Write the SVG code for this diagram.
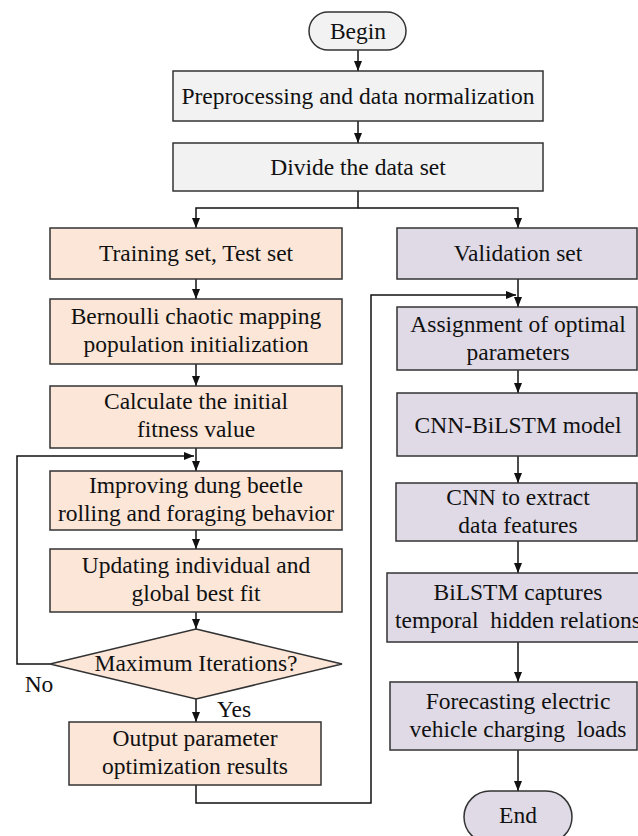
<svg xmlns="http://www.w3.org/2000/svg" width="638" height="836" viewBox="0 0 638 836">
<style>
.box{stroke:#333;stroke-width:1.5}
.g{fill:#f2f2f2}
.p{fill:#fbe6d8}
.v{fill:#dfdae6}
.t{font-family:"Liberation Serif","Times New Roman",serif;font-size:23.5px;fill:#111;text-anchor:middle}
.c{fill:none;stroke:#111;stroke-width:1.5}
</style>
<defs>
<marker id="ah" markerUnits="userSpaceOnUse" markerWidth="10" markerHeight="10" refX="10" refY="4" orient="auto">
<path d="M0,0 L10,4 L0,8 z" fill="#111"/>
</marker>
</defs>
<rect width="638" height="836" fill="#fff"/>
<g id="connectors">
<line class="c" x1="358" y1="50" x2="358" y2="71" marker-end="url(#ah)"/>
<line class="c" x1="358" y1="121" x2="358" y2="143" marker-end="url(#ah)"/>
<polyline class="c" points="358,191 358,208 196,208 196,228" marker-end="url(#ah)"/>
<polyline class="c" points="358,208 518,208 518,228" marker-end="url(#ah)"/>
<line class="c" x1="196" y1="279" x2="196" y2="299" marker-end="url(#ah)"/>
<line class="c" x1="196" y1="364" x2="196" y2="386" marker-end="url(#ah)"/>
<line class="c" x1="196" y1="448" x2="196" y2="471" marker-end="url(#ah)"/>
<polyline class="c" points="50,664 17,664 17,456 194,456" marker-end="url(#ah)"/>
<line class="c" x1="196" y1="530" x2="196" y2="549" marker-end="url(#ah)"/>
<line class="c" x1="196" y1="612" x2="196" y2="629" marker-end="url(#ah)"/>
<line class="c" x1="196" y1="699" x2="196" y2="722" marker-end="url(#ah)"/>
<polyline class="c" points="196,785 196,803 371,803 371,295 516,295" marker-end="url(#ah)"/>
<line class="c" x1="518" y1="279" x2="518" y2="307" marker-end="url(#ah)"/>
<line class="c" x1="518" y1="370" x2="518" y2="393" marker-end="url(#ah)"/>
<line class="c" x1="518" y1="456" x2="518" y2="483" marker-end="url(#ah)"/>
<line class="c" x1="518" y1="541" x2="518" y2="573" marker-end="url(#ah)"/>
<line class="c" x1="518" y1="642" x2="518" y2="682" marker-end="url(#ah)"/>
<line class="c" x1="518" y1="750" x2="518" y2="791" marker-end="url(#ah)"/>
</g>
<g id="begin"><rect class="box g" x="309" y="12" width="97" height="38" rx="19"/><text class="t" x="358" y="39">Begin</text></g>
<g id="preprocess"><rect class="box g" x="173" y="71" width="370" height="50"/><text class="t" x="358" y="104">Preprocessing and data normalization</text></g>
<g id="divide"><rect class="box g" x="173" y="143" width="370" height="48"/><text class="t" x="358" y="175">Divide the data set</text></g>
<g id="training"><rect class="box p" x="50" y="228" width="292" height="51"/><text class="t" x="196" y="261">Training set, Test set</text></g>
<g id="bernoulli"><rect class="box p" x="50" y="299" width="292" height="65"/><text class="t" x="196" y="324">Bernoulli chaotic mapping</text><text class="t" x="196" y="352">population initialization</text></g>
<g id="calculate"><rect class="box p" x="50" y="386" width="292" height="62"/><text class="t" x="196" y="409">Calculate the initial</text><text class="t" x="196" y="437">fitness value</text></g>
<g id="improving"><rect class="box p" x="50" y="471" width="292" height="59"/><text class="t" x="196" y="493">Improving dung beetle</text><text class="t" x="196" y="521">rolling and foraging behavior</text></g>
<g id="updating"><rect class="box p" x="50" y="549" width="292" height="63"/><text class="t" x="196" y="573">Updating individual and</text><text class="t" x="196" y="601">global best fit</text></g>
<g id="decision"><polygon class="box p" points="196,629 342,664 196,699 50,664"/><text class="t" x="196" y="671">Maximum Iterations?</text></g>
<g id="labels"><text class="t" x="39" y="692">No</text><text class="t" x="234" y="717">Yes</text></g>
<g id="output"><rect class="box p" x="69" y="722" width="252" height="63"/><text class="t" x="195" y="746">Output parameter</text><text class="t" x="195" y="774">optimization results</text></g>
<g id="validation"><rect class="box v" x="397" y="228" width="240" height="51"/><text class="t" x="518" y="261">Validation set</text></g>
<g id="assignment"><rect class="box v" x="397" y="307" width="240" height="63"/><text class="t" x="518" y="332">Assignment of optimal</text><text class="t" x="518" y="360">parameters</text></g>
<g id="cnnbilstm"><rect class="box v" x="397" y="393" width="240" height="63"/><text class="t" x="518" y="433">CNN-BiLSTM model</text></g>
<g id="cnn"><rect class="box v" x="396" y="483" width="241" height="58"/><text class="t" x="518" y="505">CNN to extract</text><text class="t" x="518" y="533">data features</text></g>
<g id="bilstm"><rect class="box v" x="387" y="573" width="262" height="69"/><text class="t" x="518" y="600">BiLSTM captures</text><text class="t" x="518" y="628" xml:space="preserve">temporal  hidden relations</text></g>
<g id="forecast"><rect class="box v" x="390" y="682" width="247" height="68"/><text class="t" x="518" y="709">Forecasting electric</text><text class="t" x="518" y="737" xml:space="preserve">vehicle charging  loads</text></g>
<g id="end"><rect class="box v" x="464" y="791" width="108" height="52" rx="26"/><text class="t" x="518" y="823">End</text></g>
</svg>
